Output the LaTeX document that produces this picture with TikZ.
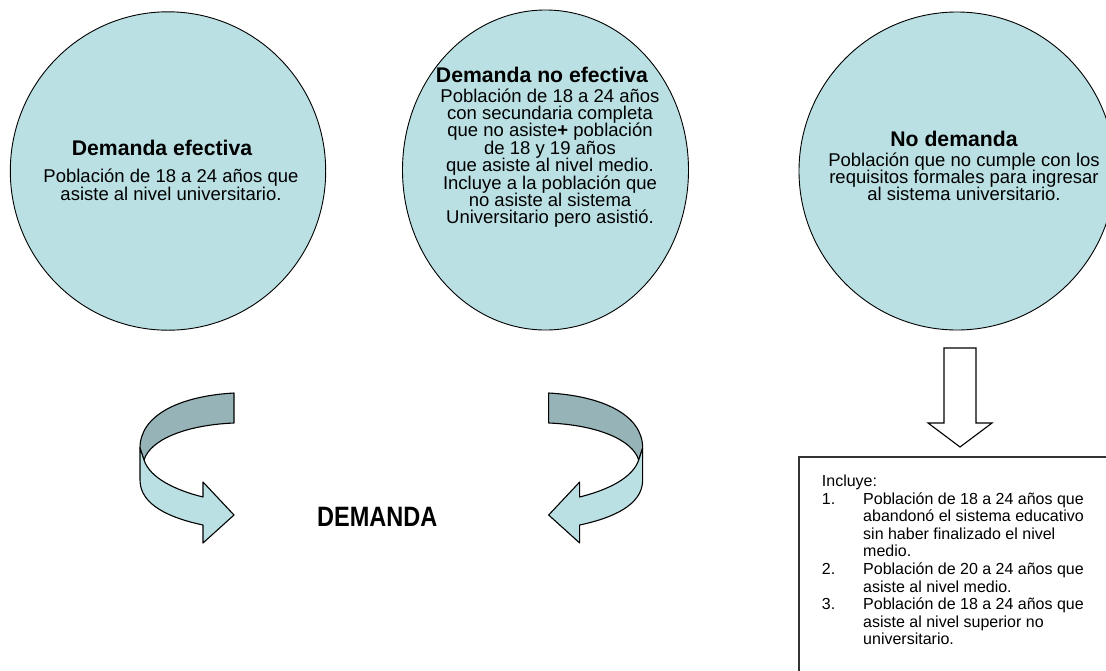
\documentclass[tikz,border=0pt]{standalone}
\usepackage{fontspec}
\usepackage{graphicx}
\setmainfont{Liberation Sans}
\definecolor{circfill}{RGB}{186,224,227}
\definecolor{darkband}{RGB}{150,179,183}
\newcommand\mylinesc[1]{\vtop{\lineskiplimit=-\maxdimen\halign{\hfil##\hfil\cr#1\crcr}}}
\newcommand\mylistl[1]{\vtop{\lineskiplimit=-\maxdimen\halign{\hbox to 41.3pt{##\hfil}&##\hfil\cr#1\crcr}}}
\begin{document}
\begin{tikzpicture}[x=1pt,y=-1pt,
  circ/.style={draw=black, line width=0.9pt, fill=circfill},
  titlest/.style={font=\fontsize{21.2}{24}\selectfont\bfseries, inner sep=0pt, anchor=base},
  bodyst/.style={font=\fontsize{18.5}{17.4}\selectfont, inner sep=0pt, anchor=base},
  liststyle/.style={font=\fontsize{16}{17.6}\selectfont, inner sep=0pt, anchor=base west},
  darkst/.style={draw=black, line width=1.1pt, fill=darkband, line join=round},
  lightst/.style={draw=black, line width=1.1pt, fill=circfill, line join=round},
  blockarrow/.style={draw=black, line width=1.1pt, fill=white},
  boxst/.style={draw=black!80, line width=1.8pt, fill=white}]
\useasboundingbox (0,0) rectangle (1106,670);
\clip (0,0) rectangle (1106,670);
\fill[white] (0,0) rectangle (1106,670);

% circles
\draw[circ] (168,171) ellipse [x radius=157.7pt, y radius=159.2pt];
\draw[circ] (545.5,170) ellipse [x radius=143pt, y radius=160pt];
\draw[circ] (957,171) ellipse [x radius=158pt, y radius=159pt];

% circle 1 text
\node[titlest] (t1) at (162,155.7) {Demanda efectiva};
\node[bodyst] (b1) at (171,182.7) {\mylinesc{Población de 18 a 24 años que\cr asiste al nivel universitario.}};

% circle 2 text
\node[titlest] (t2) at (542,82.7) {Demanda no efectiva};
\node[bodyst] (b2) at (550,102) {\mylinesc{Población de 18 a 24 años\cr con secundaria completa\cr que no asiste\textbf{+} población\cr de 18 y 19 años\cr que asiste al nivel medio.\cr Incluye a la población que\cr no asiste al sistema\cr Universitario pero asistió.}};

% circle 3 text
\node[titlest] (t3) at (954,146.5) {No demanda};
\node[bodyst] (b3) at (964,166) {\mylinesc{Población que no cumple con los\cr requisitos formales para ingresar\cr al sistema universitario.}};

% down block arrow
\draw[blockarrow] (944,348) -- (976,348) -- (976,423) -- (992,423) -- (960,447) -- (928,423) -- (944,423) -- cycle;

% box
\draw[boxst] (799,457) rectangle (1130,700);
\node[liststyle] (list) at (821.7,486.5) {\mylistl{\rlap{Incluye:}&\cr
1.&Población de 18 a 24 años que\cr
&abandonó el sistema educativo\cr
&sin haber finalizado el nivel\cr
&medio.\cr
2.&Población de 20 a 24 años que\cr
&asiste al nivel medio.\cr
3.&Población de 18 a 24 años que\cr
&asiste al nivel superior no\cr
&universitario.}};

% curved arrows
\begin{scope}
 \filldraw[darkst] (234,393) .. controls (180,396) and (140,415) .. (140,448) -- (144,460) .. controls (150,440) and (185,425) .. (234,423) -- cycle;
 \filldraw[lightst] (140,448) -- (140,480) .. controls (140,505) and (170,518) .. (203,525) -- (203,543) -- (234,515) -- (203,482) -- (203,497) .. controls (175,490) and (150,478) .. (144,460) -- cycle;
\end{scope}
\begin{scope}[xshift=782.67pt, xscale=-1]
 \filldraw[darkst] (234,393) .. controls (180,396) and (140,415) .. (140,448) -- (144,460) .. controls (150,440) and (185,425) .. (234,423) -- cycle;
 \filldraw[lightst] (140,448) -- (140,480) .. controls (140,505) and (170,518) .. (203,525) -- (203,543) -- (234,515) -- (203,482) -- (203,497) .. controls (175,490) and (150,478) .. (144,460) -- cycle;
\end{scope}

% DEMANDA
\node[inner sep=0pt, anchor=base] (dem) at (377.3,526) {\scalebox{0.84}[1]{\fontsize{28}{30}\selectfont\bfseries DEMANDA}};
\end{tikzpicture}
\end{document}
